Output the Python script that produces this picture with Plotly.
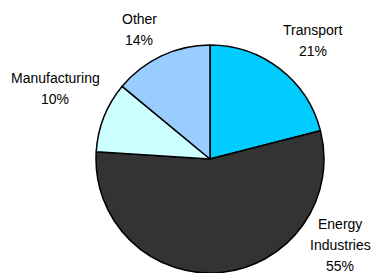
import plotly.graph_objects as go

labels = ["Transport", "Energy Industries", "Manufacturing", "Other"]
values = [21, 55, 10, 14]
colors = ["#00CCFF", "#333333", "#CCFFFF", "#99CCFF"]
label_lines = [["Transport"], ["Energy", "Industries"], ["Manufacturing"], ["Other"]]

W, H = 371, 273
cx, cy, r = 210, 159, 114

# label placement (pixel: center x, first baseline y)
label_pos = [(313, 35), (340, 229), (55, 83), (139, 24)]
line_gap = 21
fs = 14

fig = go.Figure(go.Pie(
    labels=labels, values=values, sort=False, direction="clockwise", rotation=0,
    marker=dict(colors=colors, line=dict(color="black", width=1.5)),
    textinfo="none", hoverinfo="label+percent", showlegend=False,
    domain=dict(x=[(cx - r) / W, (cx + r) / W], y=[(H - cy - r) / H, (H - cy + r) / H]),
))

annotations = []
for lines, v, (px, py) in zip(label_lines, values, label_pos):
    all_lines = lines + [f"{v}%"]
    for i, t in enumerate(all_lines):
        base = py + i * line_gap
        ymid = base - 0.36 * fs
        annotations.append(dict(
            text=t, x=px / W, y=1 - ymid / H, xref="paper", yref="paper",
            xanchor="center", yanchor="middle", showarrow=False,
            font=dict(family="Liberation Sans, Arial, sans-serif", size=fs, color="black"),
        ))

fig.update_layout(
    width=W, height=H, margin=dict(l=0, r=0, t=0, b=0),
    paper_bgcolor="white", plot_bgcolor="white",
    annotations=annotations,
)
fig.write_html("out.html", config={"displayModeBar": False},
               post_script="document.body.style.margin='0';document.body.style.overflow='hidden';")
